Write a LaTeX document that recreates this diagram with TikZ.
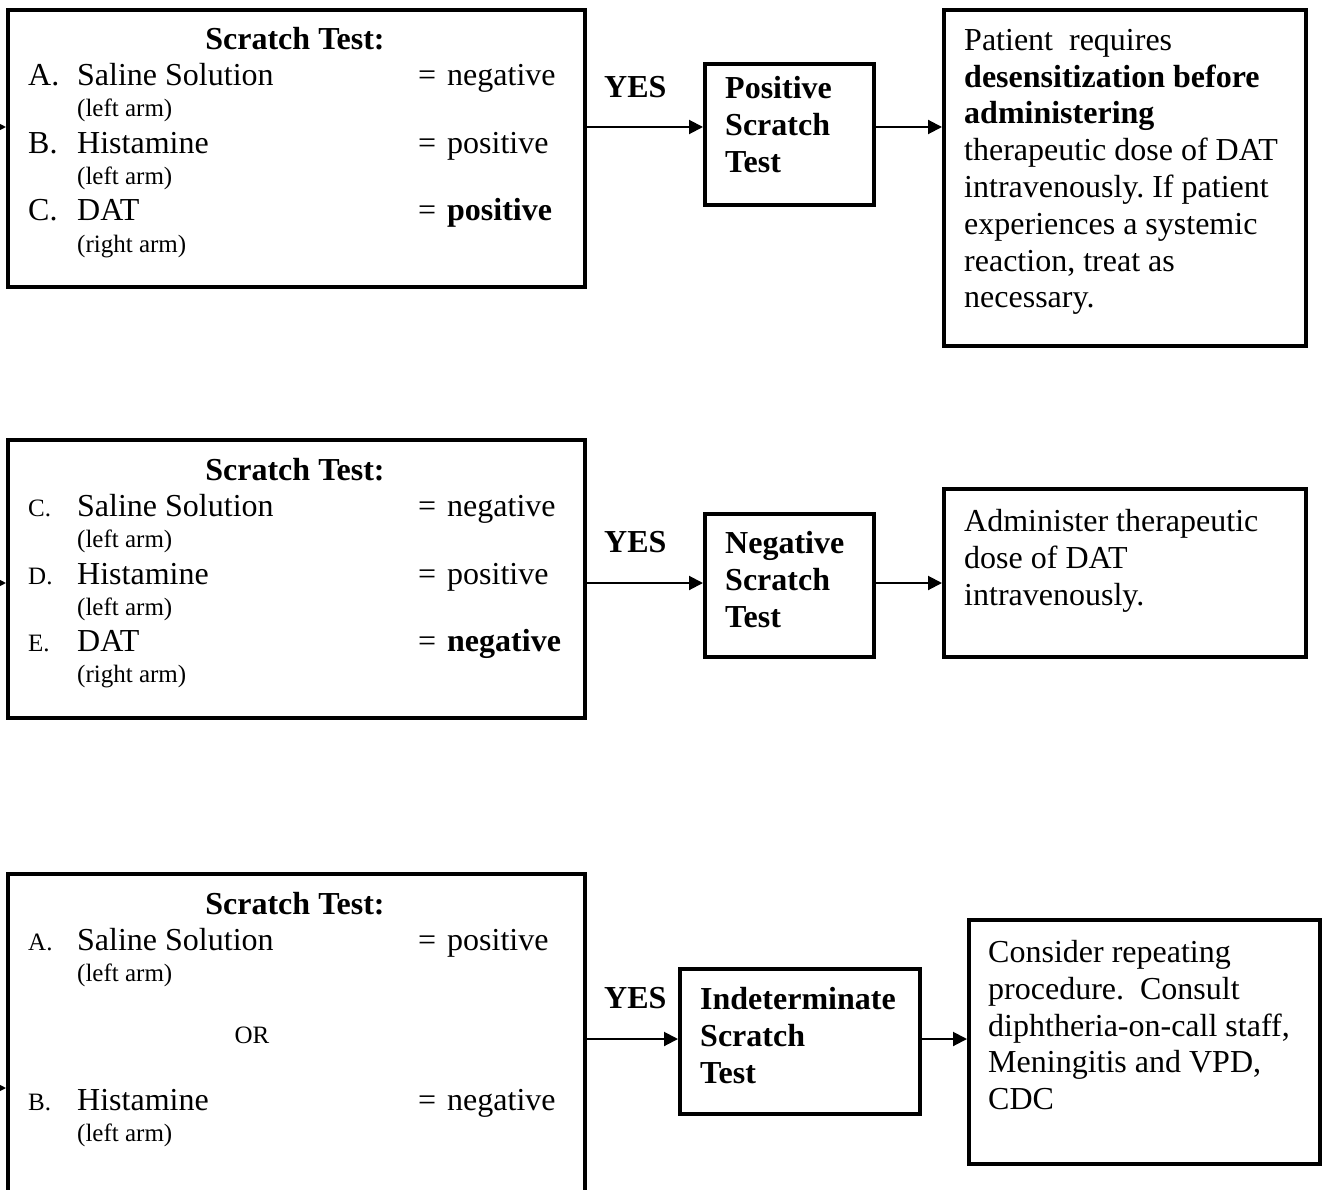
\documentclass[tikz,border=0pt]{standalone}
\usepackage{fontspec}
\setmainfont{Liberation Serif}
\usetikzlibrary{arrows.meta, positioning}
\frenchspacing

\begin{document}
\begin{tikzpicture}[x=1pt,y=-1pt]
    \tikzstyle{box}=[draw=black, line width=4pt, rectangle, inner sep=0pt, anchor=north west]
    \tikzstyle{txt}=[inner sep=0pt, anchor=base west, font=\fontsize{32}{36.8}\selectfont]
    \tikzstyle{small}=[txt, font=\fontsize{25}{29}\selectfont]
    \tikzstyle{head}=[txt, anchor=base, font=\fontsize{32}{36.8}\selectfont\bfseries]
    \tikzstyle{para}=[inner sep=0pt, anchor=north west, align=left, font=\fontsize{32}{36.8}\selectfont]
    \tikzstyle{flow}=[draw=black, line width=2pt, -{Triangle[length=14pt,width=14pt]}]

    \useasboundingbox (0,0) rectangle (1332,1190);

%   boxes, top to bottom
    \node[box, minimum width=577pt, minimum height=277pt] (test1) at (6,8) {};
    \node[box, minimum width=169pt, minimum height=141pt] (pos) at (703,62) {};
    \node[box, minimum width=362pt, minimum height=336pt] (act1) at (942,8) {};

    \node[box, minimum width=577pt, minimum height=278pt] (test2) at (6,438) {};
    \node[box, minimum width=169pt, minimum height=143pt] (neg) at (703,512) {};
    \node[box, minimum width=362pt, minimum height=168pt] (act2) at (942,487) {};

    \node[box, minimum width=577pt, minimum height=340pt] (test3) at (6,872) {};
    \node[box, minimum width=240pt, minimum height=145pt] (ind) at (678,967) {};
    \node[box, minimum width=351pt, minimum height=244pt] (act3) at (967,918) {};

%   scratch test 1
    \node[head] (h1) at (295,50) {Scratch Test:};
    \foreach \tag/\name/\val/\arm/\y [count=\i] in {A./Saline Solution/negative/left/86,
        B./Histamine/positive/left/154, C./DAT/\textbf{positive}/right/221}{
        \node[txt] (a-\i) at (28,\y) {\tag};
        \node[txt] (n-\i) at (77,\y) {\name};
        \node[txt] (eq-\i) at (418,\y) {=};
        \node[txt] (v-\i) at (447,\y) {\val};
        \node[small] (arm-\i) at (77,\y+31) {(\arm\ arm)};
    }

%   scratch test 2
    \node[head] (h2) at (295,480) {Scratch Test:};
    \foreach \tag/\name/\val/\arm/\y [count=\i] in {C./Saline Solution/negative/left/516,
        D./Histamine/positive/left/584, E./DAT/\textbf{negative}/right/651}{
        \node[small] (c-\i) at (28,\y) {\tag};
        \node[txt] (m-\i) at (77,\y) {\name};
        \node[txt] (eqb-\i) at (418,\y) {=};
        \node[txt] (w-\i) at (447,\y) {\val};
        \node[small] (brm-\i) at (77,\y+31) {(\arm\ arm)};
    }

%   scratch test 3
    \node[head] (h3) at (295,914) {Scratch Test:};
    \node[small] (e-1) at (28,950) {A.};
    \node[txt] (k-1) at (77,950) {Saline Solution};
    \node[txt] (eqc-1) at (418,950) {=};
    \node[txt] (u-1) at (447,950) {positive};
    \node[small] (crm-1) at (77,981) {(left arm)};
    \node[small, anchor=base] (or) at (252,1043) {OR};
    \node[small] (e-2) at (28,1110) {B.};
    \node[txt] (k-2) at (77,1110) {Histamine};
    \node[txt] (eqc-2) at (418,1110) {=};
    \node[txt] (u-2) at (447,1110) {negative};
    \node[small] (crm-2) at (77,1141) {(left arm)};

%   results and actions
    \node[txt, font=\fontsize{32}{36.8}\selectfont\bfseries] (yes1) at (604,98) {YES};
    \node[txt, font=\fontsize{32}{36.8}\selectfont\bfseries] (yes2) at (604,552) {YES};
    \node[txt, font=\fontsize{32}{36.8}\selectfont\bfseries] (yes3) at (604,1008) {YES};

    \node[para, font=\fontsize{32}{36.8}\selectfont\bfseries] (pos-t) at (725,76) {Positive\\Scratch\\Test};
    \node[para, font=\fontsize{32}{36.8}\selectfont\bfseries] (neg-t) at (725,531) {Negative\\Scratch\\Test};
    \node[para, font=\fontsize{32}{36.8}\selectfont\bfseries] (ind-t) at (700,987) {Indeterminate\\Scratch\\Test};

    \node[para] (act1-t) at (964,29) {Patient\ \ requires\\\textbf{desensitization before}\\\textbf{administering}\\therapeutic dose of DAT\\intravenously. If patient\\experiences a systemic\\reaction, treat as\\necessary.};
    \node[para] (act2-t) at (964,509) {Administer therapeutic\\dose of DAT\\intravenously.};
    \node[para] (act3-t) at (988,940) {Consider repeating\\procedure.\ \ Consult\\diphtheria-on-call staff,\\Meningitis and VPD,\\CDC};

%   connectors
    \coordinate (row1) at (0,127);
    \coordinate (row2) at (0,583);
    \coordinate (row3) at (0,1039);
    \coordinate (in1) at (-40,127);
    \coordinate (in2) at (-40,583);
    \coordinate (in3) at (-40,1088);

    \draw[flow] (in1) -- (test1.west |- in1);
    \draw[flow] (in2) -- (test2.west |- in2);
    \draw[flow] (in3) -- (test3.west |- in3);

    \draw[flow] (test1.east |- row1) -- (pos.west |- row1);
    \draw[flow] (pos.east |- row1) -- (act1.west |- row1);
    \draw[flow] (test2.east |- row2) -- (neg.west |- row2);
    \draw[flow] (neg.east |- row2) -- (act2.west |- row2);
    \draw[flow] (test3.east |- row3) -- (ind.west |- row3);
    \draw[flow] (ind.east |- row3) -- (act3.west |- row3);
\end{tikzpicture}
\end{document}
